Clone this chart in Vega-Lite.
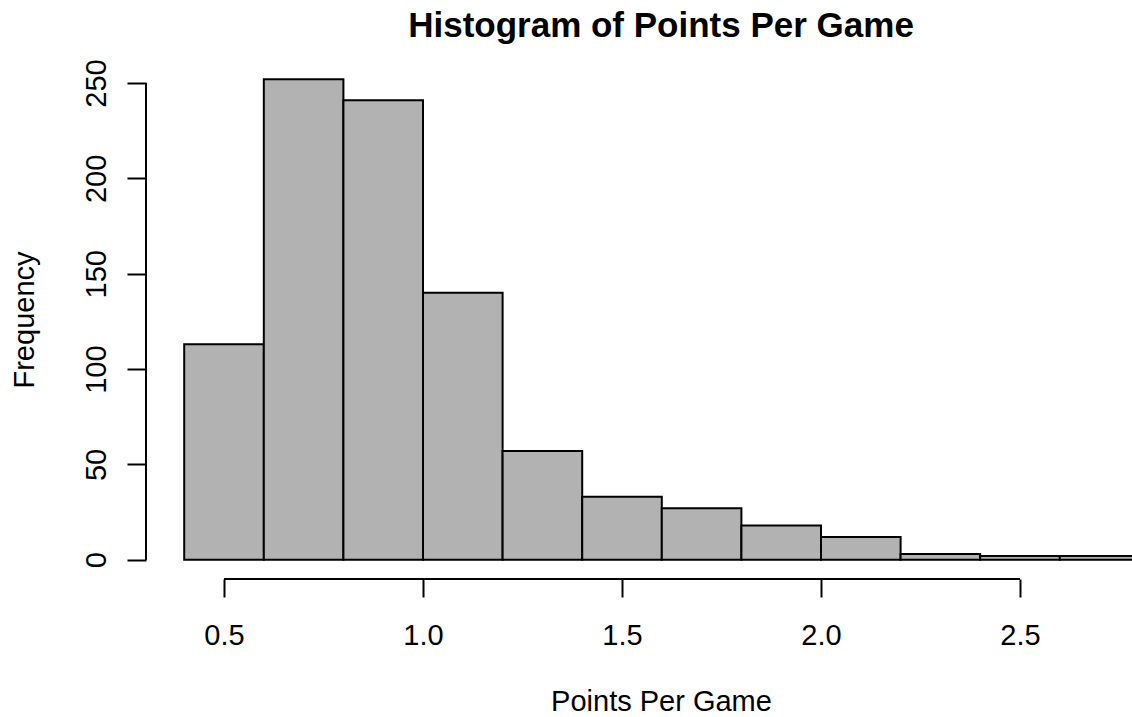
{
  "$schema": "https://vega.github.io/schema/vega-lite/v6.json",
  "width": 986,
  "height": 519,
  "autosize": {"type": "none"},
  "padding": {"left": 146, "top": 60, "right": 0, "bottom": 138},
  "background": "white",
  "config": {
    "view": {"stroke": null},
    "font": "Liberation Sans",
    "axis": {"grid": false}
  },
  "title": {
    "text": "Histogram of Points Per Game",
    "font": "Liberation Sans",
    "fontSize": 35,
    "fontWeight": "bold",
    "color": "black",
    "anchor": "middle",
    "frame": "group",
    "dx": 22,
    "baseline": "alphabetic",
    "offset": -13
  },
  "data": {
    "values": [
      {"bin_start": 0.4, "bin_end": 0.6, "count": 113},
      {"bin_start": 0.6, "bin_end": 0.8, "count": 252},
      {"bin_start": 0.8, "bin_end": 1.0, "count": 241},
      {"bin_start": 1.0, "bin_end": 1.2, "count": 140},
      {"bin_start": 1.2, "bin_end": 1.4, "count": 57},
      {"bin_start": 1.4, "bin_end": 1.6, "count": 33},
      {"bin_start": 1.6, "bin_end": 1.8, "count": 27},
      {"bin_start": 1.8, "bin_end": 2.0, "count": 18},
      {"bin_start": 2.0, "bin_end": 2.2, "count": 12},
      {"bin_start": 2.2, "bin_end": 2.4, "count": 3},
      {"bin_start": 2.4, "bin_end": 2.6, "count": 2},
      {"bin_start": 2.6, "bin_end": 2.8, "count": 2}
    ]
  },
  "layer": [
    {
      "mark": {"type": "bar", "fill": "#B2B2B2", "stroke": "black", "strokeWidth": 2, "clip": true},
      "encoding": {
        "x": {
          "field": "bin_start",
          "type": "quantitative",
          "scale": {"domain": [0.304, 2.7814], "nice": false, "zero": false},
          "axis": {
            "title": "Points Per Game",
            "values": [0.5, 1.0, 1.5, 2.0, 2.5],
            "format": ".1f",
            "domain": false,
            "tickSize": 18,
            "tickWidth": 2,
            "tickColor": "black",
            "labelFontSize": 29,
            "labelColor": "black",
            "labelFont": "Liberation Sans",
            "labelBaseline": "alphabetic",
            "labelPadding": 47,
            "labelFlush": false,
            "labelOverlap": false,
            "titleFontSize": 29,
            "titleFontWeight": "normal",
            "titleColor": "black",
            "titleFont": "Liberation Sans",
            "titleBaseline": "alphabetic",
            "titlePadding": 60,
            "titleX": 515
          }
        },
        "x2": {"field": "bin_end"},
        "y": {
          "field": "count",
          "type": "quantitative",
          "scale": {"domain": [-10.08, 262.08], "nice": false, "zero": false},
          "axis": {
            "title": "Frequency",
            "values": [0, 50, 100, 150, 200, 250],
            "domain": false,
            "tickSize": 19,
            "tickWidth": 2,
            "tickColor": "black",
            "labelFontSize": 29,
            "labelColor": "black",
            "labelFont": "Liberation Sans",
            "labelAngle": -90,
            "labelAlign": "center",
            "labelBaseline": "alphabetic",
            "labelPadding": 22,
            "labelFlush": false,
            "labelOverlap": false,
            "titleFontSize": 29,
            "titleFontWeight": "normal",
            "titleColor": "black",
            "titleFont": "Liberation Sans",
            "titleBaseline": "alphabetic",
            "titlePadding": 49
          }
        },
        "y2": {"datum": 0}
      }
    },
    {
      "mark": {"type": "rule", "stroke": "black", "strokeWidth": 2},
      "encoding": {
        "x": {"datum": 0.5},
        "x2": {"datum": 2.5},
        "y": {"datum": -10.08}
      }
    },
    {
      "mark": {"type": "rule", "stroke": "black", "strokeWidth": 2},
      "encoding": {
        "x": {"datum": 0.304},
        "y": {"datum": 0},
        "y2": {"datum": 250}
      }
    }
  ]
}
